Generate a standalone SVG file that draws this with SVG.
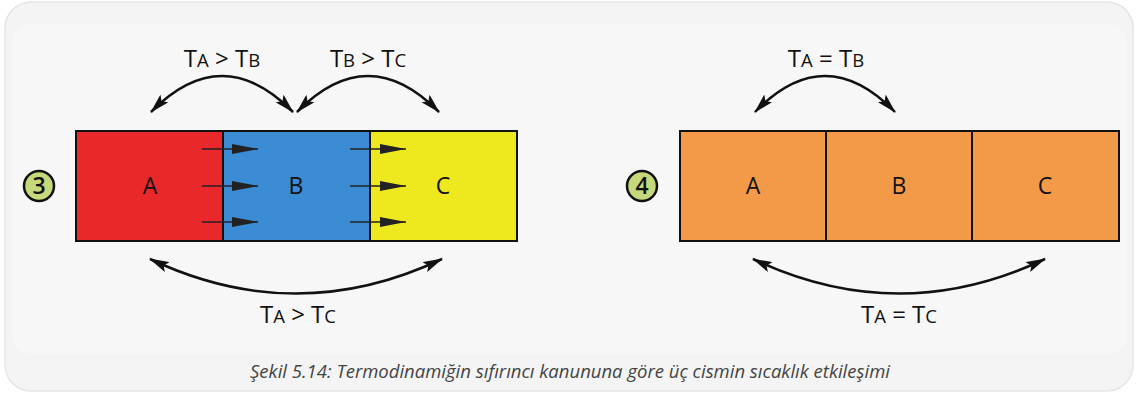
<svg xmlns="http://www.w3.org/2000/svg" width="1139" height="394" viewBox="0 0 1139 394">
<defs>
<marker id="ah" viewBox="0 0 20 11" refX="19" refY="5.5" markerWidth="20" markerHeight="11" markerUnits="userSpaceOnUse" orient="auto-start-reverse">
<path d="M0,0 L20,5.5 L0,11 L4,5.5 Z" fill="#111"/>
</marker>
<marker id="sh" viewBox="0 0 26 10" refX="26" refY="5" markerWidth="26" markerHeight="10" markerUnits="userSpaceOnUse" orient="auto">
<path d="M0,0 L26,5 L0,10 Z" fill="#222"/>
</marker>
<style>
.box{stroke:#111;stroke-width:2}
.lbl{font-family:"Open Sans","DejaVu Sans",sans-serif;font-size:23px;fill:#111;text-anchor:middle}
.rel{font-family:"Open Sans","DejaVu Sans",sans-serif;font-size:24px;fill:#111;text-anchor:middle}
.sc{font-size:18.5px}
.arc{fill:none;stroke:#111;stroke-width:2.5}
.small{fill:none;stroke:#222;stroke-width:1.6}
.num{fill:#c5d97a;stroke:#111;stroke-width:2.5}
.numt{font-family:"Open Sans","DejaVu Sans",sans-serif;font-size:23px;font-weight:600;fill:#111;text-anchor:middle}
.cap{font-family:"Open Sans","Liberation Sans",sans-serif;font-size:18.5px;font-style:italic;fill:#444;text-anchor:middle}
</style>
</defs>
<rect x="0" y="0" width="1139" height="394" fill="#ffffff"/>
<rect x="5" y="2" width="1128" height="389" rx="26" fill="#f4f4f4" stroke="#e6e6e6" stroke-width="1.5"/>
<rect x="12" y="24" width="1115" height="330" rx="20" fill="#f7f7f7"/>

<g id="circle3"><circle class="num" cx="39" cy="186" r="15"/><text class="numt" x="39" y="194">3</text></g>
<g id="A1"><rect class="box" x="76" y="131" width="147" height="110" fill="#e8282b"/><text class="lbl" x="150" y="194">A</text></g>
<g id="B1"><rect class="box" x="223" y="131" width="147" height="110" fill="#3b8bd5"/><text class="lbl" x="296" y="194">B</text></g>
<g id="C1"><rect class="box" x="370" y="131" width="147" height="110" fill="#eee91f"/><text class="lbl" x="443" y="194">C</text></g>

<g id="circle4"><circle class="num" cx="642" cy="186" r="15"/><text class="numt" x="642" y="194">4</text></g>
<g id="A2"><rect class="box" x="680" y="131" width="146" height="110" fill="#f29a47"/><text class="lbl" x="753" y="194">A</text></g>
<g id="B2"><rect class="box" x="826" y="131" width="146" height="110" fill="#f29a47"/><text class="lbl" x="899" y="194">B</text></g>
<g id="C2"><rect class="box" x="972" y="131" width="147" height="110" fill="#f29a47"/><text class="lbl" x="1045" y="194">C</text></g>

<g id="connectors">
<path class="arc" d="M151,112 Q222,40 293,112" marker-start="url(#ah)" marker-end="url(#ah)"/>
<path class="arc" d="M297,112 Q368,40 439,112" marker-start="url(#ah)" marker-end="url(#ah)"/>
<path class="arc" d="M150,259 Q296,328 442,259" marker-start="url(#ah)" marker-end="url(#ah)"/>
<path class="arc" d="M755,112 Q825,40 895,112" marker-start="url(#ah)" marker-end="url(#ah)"/>
<path class="arc" d="M753,259 Q899,328 1045,259" marker-start="url(#ah)" marker-end="url(#ah)"/>
<path class="small" d="M202,149 H258" marker-end="url(#sh)"/>
<path class="small" d="M202,186 H258" marker-end="url(#sh)"/>
<path class="small" d="M202,222 H258" marker-end="url(#sh)"/>
<path class="small" d="M350,149 H406" marker-end="url(#sh)"/>
<path class="small" d="M350,186 H406" marker-end="url(#sh)"/>
<path class="small" d="M350,222 H406" marker-end="url(#sh)"/>
</g>

<g id="labels">
<text class="rel" x="222" y="67">T<tspan class="sc">A</tspan> &gt; T<tspan class="sc">B</tspan></text>
<text class="rel" x="368" y="67">T<tspan class="sc">B</tspan> &gt; T<tspan class="sc">C</tspan></text>
<text class="rel" x="298" y="323">T<tspan class="sc">A</tspan> &gt; T<tspan class="sc">C</tspan></text>
<text class="rel" x="826" y="67">T<tspan class="sc">A</tspan> = T<tspan class="sc">B</tspan></text>
<text class="rel" x="899" y="323">T<tspan class="sc">A</tspan> = T<tspan class="sc">C</tspan></text>
</g>

<text class="cap" x="570" y="378">Şekil 5.14: Termodinamiğin sıfırıncı kanununa göre üç cismin sıcaklık etkileşimi</text>
</svg>
